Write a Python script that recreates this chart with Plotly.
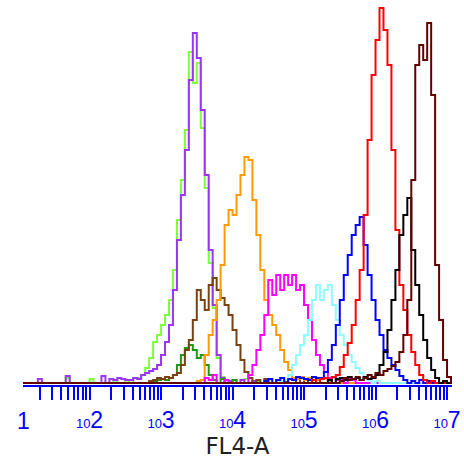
import plotly.graph_objects as go

# ---- histogram bins (log10 of FL4-A), 18 bins per decade ----
N_BINS = 112
BIN_LOG = [1 + (i + 0.5) / 18 for i in range(N_BINS)]

# ---- series: first bin index + counts per bin ----
green_start = 6
green_counts = [0, 0, 0, 0, 0, 0, 5, 0, 0, 0, 0, 0, 4, 0, 0, 0, 0, 0, 3, 0, 0, 3, 0, 5,
                5, 8, 15, 25, 41, 48, 58, 68, 83, 113, 163, 203, 253, 331, 300, 320, 255,
                195, 120, 75, 25, 6, 0, 0, 3, 0, 0, 4, 0, 0, 2, 0, 0, 3]

purple_start = 5
purple_counts = [4, 0, 0, 0, 0, 0, 0, 7, 0, 0, 0, 0, 0, 0, 0, 0, 7, 0, 4, 3, 5, 4, 3, 3,
                 5, 4, 8, 10, 12, 14, 18, 28, 41, 58, 93, 143, 188, 233, 303, 350, 325,
                 273, 208, 133, 78, 28, 5, 0, 2, 0, 0, 3, 0, 0, 2]

dgreen_start = 34
dgreen_counts = [2, 3, 4, 3, 5, 8, 18, 28, 35, 38, 33, 25, 28, 18, 8, 3, 0, 4, 0, 0, 3]

brown_start = 33
brown_counts = [2, 3, 5, 4, 6, 5, 8, 10, 18, 33, 43, 63, 93, 83, 73, 98, 105, 93, 85, 78,
                68, 53, 38, 23, 11, 5, 0, 3, 0, 4, 0, 0, 3, 0, 2, 0, 0, 4, 0, 3]

orange_start = 44
orange_counts = [0, 2, 3, 28, 48, 63, 83, 118, 158, 173, 168, 188, 208, 226, 223, 183,
                 148, 113, 83, 68, 58, 48, 33, 21, 13, 5, 4, 6, 3, 5, 0, 3, 0, 0, 2]

magenta_start = 46
magenta_counts = [0, 5, 3, 8, 0, 0, 3, 0, 0, 0, 0, 0, 8, 18, 33, 48, 68, 103, 88, 108, 93,
                  108, 98, 108, 93, 98, 78, 63, 43, 28, 18, 11, 5, 6, 3, 4, 0, 5, 3]

cyan_start = 66
cyan_counts = [2, 3, 8, 18, 28, 38, 48, 63, 83, 98, 83, 93, 98, 78, 63, 48, 38, 28, 21,
               15, 10, 6, 3, 0, 2]

blue_start = 62
blue_counts = [2, 4, 0, 3, 5, 0, 4, 3, 6, 5, 4, 3, 6, 5, 5, 11, 23, 38, 58, 83, 108, 128,
               148, 158, 166, 138, 108, 83, 63, 48, 33, 25, 18, 13, 7, 3, 0, 2, 0, 3, 0, 2]

red_start = 74
red_counts = [3, 0, 4, 5, 3, 6, 8, 16, 28, 40, 58, 83, 113, 168, 243, 308, 343, 375, 353,
              318, 233, 153, 98, 73, 48, 31, 18, 8, 3, 0, 2]

black_start = 78
black_counts = [3, 0, 4, 5, 3, 6, 4, 5, 3, 6, 4, 5, 8, 18, 31, 53, 83, 113, 148, 168, 185,
                133, 98, 68, 43, 25, 13, 5, 0, 2]

maroon_start = 81
maroon_counts = [2, 5, 3, 4, 6, 3, 5, 8, 6, 10, 8, 12, 14, 17, 21, 31, 48, 83, 203, 318,
                 338, 323, 360, 288, 118, 63, 23, 6, 0]

SERIES = [
    ("green", "#7dff3c", green_start, green_counts),
    ("purple", "#9a35f5", purple_start, purple_counts),
    ("dark green", "#1f9a10", dgreen_start, dgreen_counts),
    ("brown", "#7a4212", brown_start, brown_counts),
    ("orange", "#ff9a00", orange_start, orange_counts),
    ("magenta", "#ff00ff", magenta_start, magenta_counts),
    ("cyan", "#8ffcff", cyan_start, cyan_counts),
    ("blue", "#0000ff", blue_start, blue_counts),
    ("red", "#ff0000", red_start, red_counts),
    ("black", "#000000", black_start, black_counts),
    ("maroon", "#620000", maroon_start, maroon_counts),
]

TICK_EXP = [2, 3, 4, 5, 6, 7]
TICK_TEXT = ["<span style='font-size:13px'>10</span>%d" % e for e in TICK_EXP]

fig = go.Figure()
for name, color, start, counts in SERIES:
    full = [0] * N_BINS
    for k, c in enumerate(counts):
        if start + k < N_BINS:
            full[start + k] = c
    xs = [10 ** b for b in BIN_LOG]
    fig.add_trace(go.Scatter(x=xs, y=full, mode="lines", line_shape="hvh",
                             line=dict(color=color, width=2), name=name,
                             hoverinfo="skip"))

minor_vals = [m * 10 ** k for k in range(1, 7) for m in range(2, 10)]

fig.update_layout(
    width=464, height=460,
    margin=dict(l=23, r=9, t=3, b=75),
    plot_bgcolor="white", paper_bgcolor="white",
    showlegend=False,
    xaxis=dict(
        type="log", range=[1 + 5 / 72, 7 + 5 / 72],
        showgrid=False, zeroline=False,
        showline=True, linecolor="#0000ff", linewidth=2,
        ticks="outside", ticklen=13, tickwidth=2, tickcolor="#0000ff",
        tickmode="array", tickvals=[10 ** e for e in TICK_EXP], ticktext=TICK_TEXT,
        tickfont=dict(family="Liberation Sans", size=23, color="#0000ff"),
        minor=dict(tickmode="array", tickvals=minor_vals, ticks="outside",
                   ticklen=13, tickwidth=2, tickcolor="#0000ff"),
        title=dict(text="FL4-A", font=dict(family="DejaVu Sans", size=23, color="#222222"),
                   standoff=6),
    ),
    yaxis=dict(visible=False, range=[-2, 380]),
    annotations=[dict(text="1", xref="paper", yref="paper", x=0, y=-0.055,
                      xanchor="center", yanchor="top", showarrow=False,
                      font=dict(family="Liberation Sans", size=23, color="#0000ff"))],
)

fig.write_html("out.html")
